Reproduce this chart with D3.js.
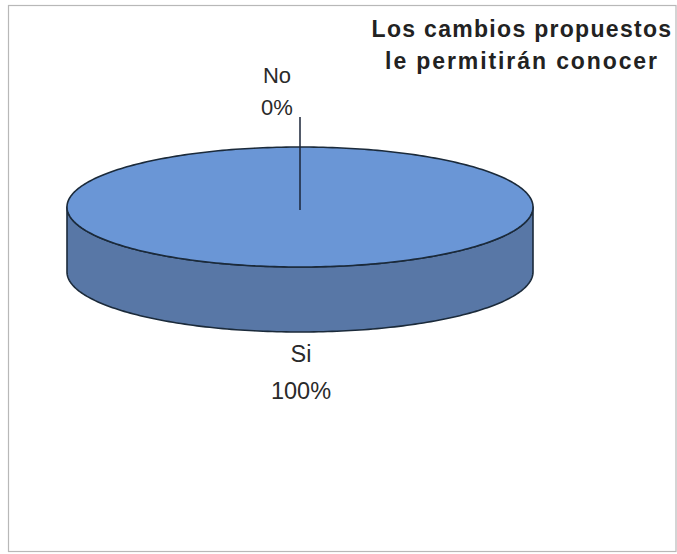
<!DOCTYPE html>
<html>
<head>
<meta charset="utf-8">
<script src="https://cdn.jsdelivr.net/npm/d3@7/dist/d3.min.js"></script>
<style>
  html, body { margin: 0; padding: 0; background: #fff; }
  svg { display: block; font-family: "Liberation Sans", Arial, sans-serif; }
</style>
</head>
<body>
<svg id="chart" width="677" height="554"></svg>
<script>
// Survey answers
const categories = ["Si", "No"];
const values = [100, 0];
const percentLabels = ["100%", "0%"];
const titleLines = ["Los cambios propuestos", "le permitirán conocer"];

const svg = d3.select("#chart");
const W = 677, H = 554;

// frame
svg.append("rect")
  .attr("x", 8.5).attr("y", 5.5)
  .attr("width", W - 9.5).attr("height", H - 8)
  .attr("fill", "#fff")
  .attr("stroke", "#b8b8b8").attr("stroke-width", 1.2);

// pie geometry (tilted disc)
const cx = 300, cy = 207, rx = 233, ry = 60, depth = 65;
const topColor = "#6a96d6", sideColor = "#5877a6", edge = "#1b2a3a";

const pie = d3.pie().sort(null).value(d => d.v);
const arcs = pie(categories.map((c, i) => ({ c, v: values[i], lab: percentLabels[i] })));

const pt = (a, dy = 0) => [cx + rx * Math.sin(a), cy - ry * Math.cos(a) + dy];

function topPath(a0, a1) {
  const steps = Math.max(2, Math.ceil((a1 - a0) / 0.02));
  const pts = d3.range(steps + 1).map(i => pt(a0 + (a1 - a0) * i / steps));
  const full = Math.abs(a1 - a0 - 2 * Math.PI) < 1e-6;
  return (full ? "M" : `M${cx},${cy}L`) + pts.map(p => p.join(",")).join("L") + "Z";
}

// visible side wall: front half of the disc (angles PI/2 .. 3PI/2)
function sidePath(a0, a1) {
  const lo = Math.max(a0, Math.PI / 2), hi = Math.min(a1, 3 * Math.PI / 2);
  if (hi <= lo) return null;
  const steps = Math.ceil((hi - lo) / 0.02);
  const upper = d3.range(steps + 1).map(i => pt(lo + (hi - lo) * i / steps));
  const lower = upper.map((p, i) => pt(lo + (hi - lo) * i / steps, depth)).reverse();
  return "M" + upper.concat(lower).map(p => p.join(",")).join("L") + "Z";
}

const g = svg.append("g");
arcs.forEach(d => {
  const s = sidePath(d.startAngle, d.endAngle);
  if (s) g.append("path").attr("d", s).attr("fill", sideColor)
    .attr("stroke", edge).attr("stroke-width", 1.6).attr("stroke-linejoin", "round");
});
arcs.forEach(d => {
  if (d.endAngle - d.startAngle <= 0) return;
  g.append("path").attr("d", topPath(d.startAngle, d.endAngle)).attr("fill", topColor)
    .attr("stroke", edge).attr("stroke-width", 1.6).attr("stroke-linejoin", "round");
});

// labels
const labelPos = {
  "Si": { x: 301, y1: 362, y2: 399, size: 23.5, leader: null },
  "No": { x: 277, y1: 83, y2: 115, size: 22, leader: [300, 117] }
};
arcs.forEach(d => {
  const p = labelPos[d.data.c];
  if (p.leader) {
    // leader from the label down to the slice's edge point at the disc centre
    svg.append("line")
      .attr("x1", p.leader[0]).attr("y1", p.leader[1])
      .attr("x2", cx).attr("y2", cy + 3)
      .attr("stroke", "#1b2438").attr("stroke-width", 1.5);
  }
  svg.append("text").attr("x", p.x).attr("y", p.y1)
    .attr("text-anchor", "middle").attr("font-size", p.size).attr("fill", "#2a2a2a")
    .text(d.data.c);
  svg.append("text").attr("x", p.x).attr("y", p.y2)
    .attr("text-anchor", "middle").attr("font-size", p.size).attr("fill", "#2a2a2a")
    .text(d.data.lab);
});

// title
svg.append("g").selectAll("text").data(titleLines).join("text")
  .attr("x", 522).attr("y", (d, i) => 37 + i * 32)
  .attr("text-anchor", "middle").attr("font-size", 23).attr("font-weight", "bold")
  .attr("letter-spacing", (d, i) => i === 0 ? 1.3 : 1.9)
  .attr("fill", "#222").text(d => d);
</script>
</body>
</html>
